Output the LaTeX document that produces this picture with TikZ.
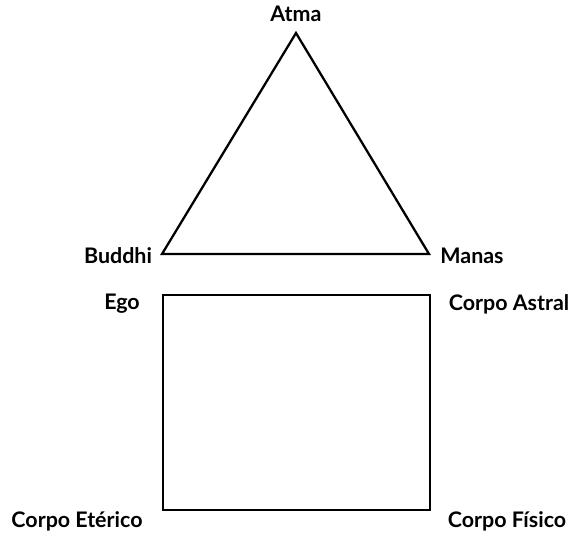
\documentclass[tikz,border=0pt]{standalone}
\usepackage{fontspec}
\setmainfont{Lato}
\usepackage{tikz}
\usetikzlibrary{positioning}

\begin{document}
\begin{tikzpicture}[
  x=0.02cm, y=-0.02cm,
  font=\fontsize{12.2}{14}\selectfont\bfseries,
  lbl/.style ={inner sep=1pt},
  edge/.style={draw,line width=1.3pt,line join=miter}]

\useasboundingbox (0,0) rectangle (572,535);

% ---------- Triangle : Atma, Buddhi, Manas ----------
\coordinate (atma)   at (296,33);
\coordinate (buddhi) at (162,254);
\coordinate (manas)  at (429,254);
\draw[edge] (atma) -- (buddhi) -- (manas) -- cycle;

\node[lbl] (latma)   at (296,14)  {Atma};
\node[lbl] (lbuddhi) at (118,256) {Buddhi};
\node[lbl] (lmanas)  at (472,256) {Manas};

% ---------- Square : Ego and the three bodies ----------
\coordinate (ego)     at (163,295);
\coordinate (astral)  at (430,295);
\coordinate (fisico)  at (430,510);
\coordinate (eterico) at (163,510);
\draw[edge] (ego) -- (astral) -- (fisico) -- (eterico) -- cycle;

\node[lbl] (lego)     at (122,304) {Ego};
\node[lbl] (lastral)  at (509,304) {Corpo Astral};
\node[lbl] (leterico) at (77,521)  {Corpo Etérico};
\node[lbl] (lfisico)  at (507,521) {Corpo Físico};

\end{tikzpicture}
\end{document}
